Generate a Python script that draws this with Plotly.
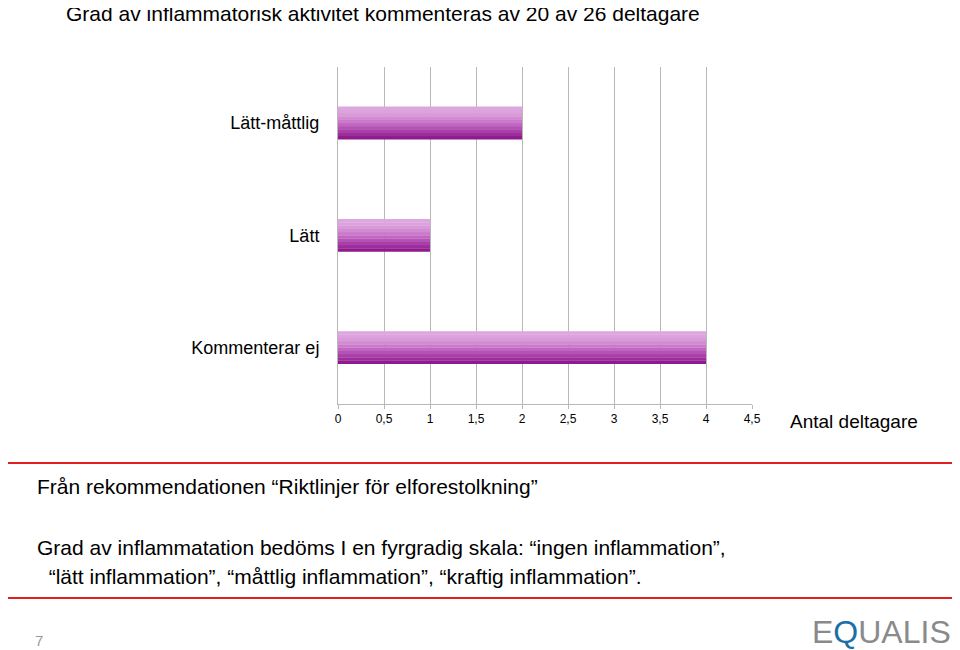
import plotly.graph_objects as go

categories = ["Kommenterar ej", "Lätt", "Lätt-måttlig"]
values = [4, 1, 2]
tick_vals = [0, 0.5, 1, 1.5, 2, 2.5, 3, 3.5, 4, 4.5]
tick_text = ["0", "0,5", "1", "1,5", "2", "2,5", "3", "3,5", "4", "4,5"]

fig = go.Figure()

# fake vertical gradient: stacked thin bands, light on top, dark at bottom
bands = ["#8e1a8e", "#9c2e9c", "#a840a8", "#b552b5", "#c066c0", "#ca7aca",
         "#d28cd2", "#d89ad8", "#dca2dc", "#dea6de"]
bar_h = 0.29
step = bar_h / len(bands)
for i, c in enumerate(bands):
    fig.add_trace(go.Bar(
        y=categories, x=values, orientation="h",
        base=0, width=step * 1.1, offset=-bar_h / 2 + i * step,
        marker=dict(color=c, line=dict(width=0)),
        showlegend=False, hoverinfo="skip",
    ))

W = 414  # plot width px
H = 337  # plot height px
L = 338  # plot left on page
B = 404  # plot bottom on page

def px(x):
    return (x - L) / W

def py(y):
    return (B - y) / H

fig.update_layout(
    width=952, height=642,
    margin=dict(l=330, r=208, t=59, b=246),
    plot_bgcolor="white", paper_bgcolor="white",
    barmode="overlay",
    font=dict(family="Liberation Sans, Arial", color="black"),
    xaxis=dict(range=[0, 4.5], tickvals=tick_vals, ticktext=tick_text,
               showgrid=True, gridcolor="#b8b8b8", gridwidth=1,
               showline=True, linecolor="#b8b8b8", ticks="outside",
               ticklen=4, tickcolor="#b8b8b8", tickfont=dict(size=12),
               zeroline=False),
    yaxis=dict(showline=True, linecolor="#b8b8b8", ticks="",
               tickfont=dict(size=18), ticklabelstandoff=14,
               range=[-0.5, 2.5]),
    shapes=[
        dict(type="rect", xref="paper", yref="paper",
             x0=px(5), x1=px(953), y0=py(598), y1=py(463),
             line=dict(color="#e02020", width=2)),
    ],
    annotations=[
        dict(text="Grad av inflammatorisk aktivitet kommenteras av 20 av 26 deltagare",
             xref="paper", yref="paper", x=px(64), y=py(13),
             xanchor="left", yanchor="middle", showarrow=False, font=dict(size=21)),
        dict(text="Antal deltagare", xref="paper", yref="paper",
             x=px(788), y=py(421), xanchor="left", yanchor="middle",
             showarrow=False, font=dict(size=19)),
        dict(text="Från rekommendationen “Riktlinjer för elforestolkning”",
             xref="paper", yref="paper", x=px(35), y=py(486),
             xanchor="left", yanchor="middle", showarrow=False, font=dict(size=21)),
        dict(text="Grad av inflammatation bedöms I en fyrgradig skala: “ingen inflammation”,",
             xref="paper", yref="paper", x=px(35), y=py(547),
             xanchor="left", yanchor="middle", showarrow=False, font=dict(size=21)),
        dict(text="  “lätt inflammation”, “måttlig inflammation”, “kraftig inflammation”.",
             xref="paper", yref="paper", x=px(35), y=py(576),
             xanchor="left", yanchor="middle", showarrow=False, font=dict(size=21)),
        dict(text="7", xref="paper", yref="paper", x=px(33), y=py(640),
             xanchor="left", yanchor="middle", showarrow=False,
             font=dict(size=15, color="#9a9a9a")),
        dict(text="E<span style='color:#1b6fa8'>Q</span>UALIS", xref="paper", yref="paper",
             x=px(953), y=py(632), xanchor="right", yanchor="middle",
             showarrow=False, font=dict(size=32, color="#8a8a8a")),
    ],
)

fig.write_html("out.html")
